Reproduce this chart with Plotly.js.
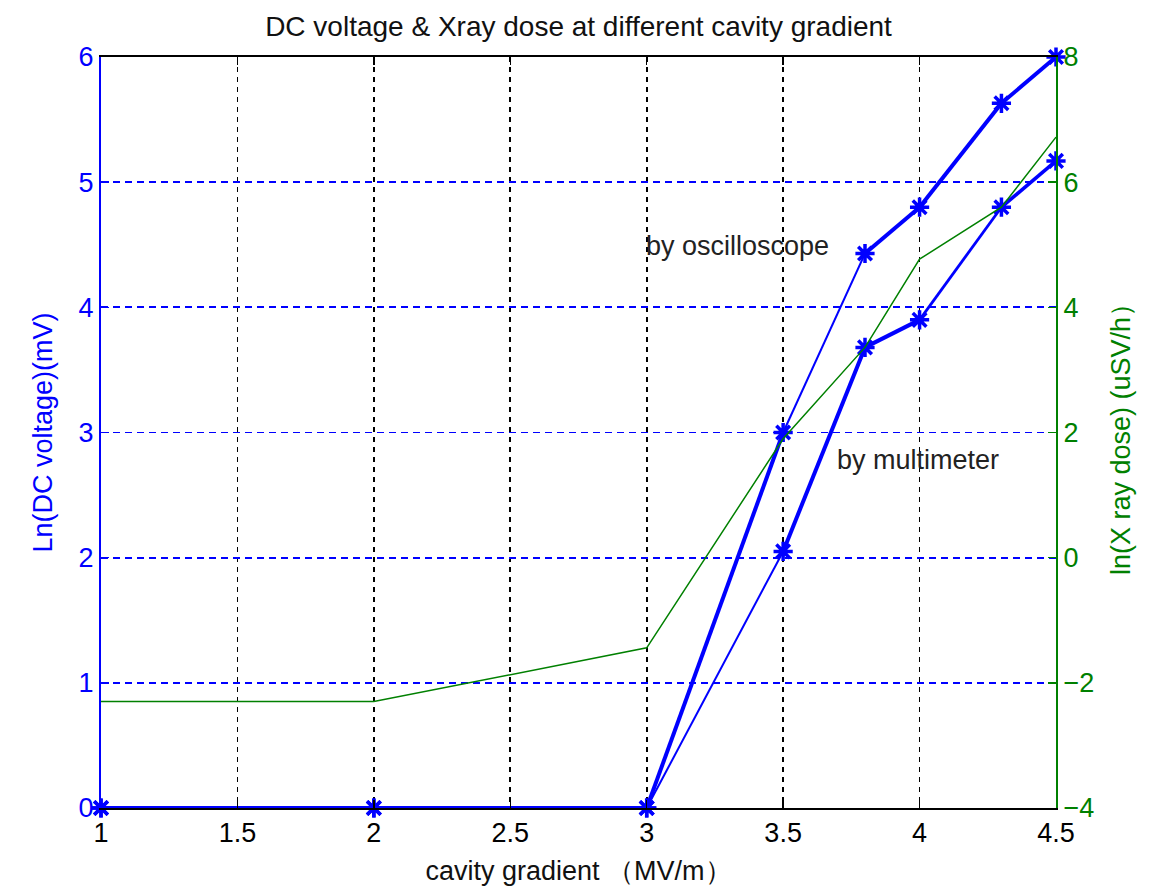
<!DOCTYPE html>
<html><head><meta charset="utf-8">
<script src="https://cdn.plot.ly/plotly-3.0.1.min.js"></script>
<style>html,body{margin:0;padding:0;background:#fff}#chart{width:1153px;height:894px}</style>
</head><body><div id="chart"></div>
<script>
// Data
const gradient = [1, 2, 3, 3.5, 3.8, 4, 4.3, 4.5];
const oscilloscope = [0, 0, 0, 3.0, 4.43, 4.8, 5.63, 6.0];
const multimeter = [0, 0, 0, 2.05, 3.68, 3.9, 4.8, 5.17];
const xrayDose = [-2.3, -2.3, -1.44, 1.9, 3.36, 4.77, 5.6, 6.72];
const xTicks = [1, 1.5, 2, 2.5, 3, 3.5, 4, 4.5];
const yTicks = [0, 1, 2, 3, 4, 5, 6];
const y2Ticks = [-4, -2, 0, 2, 4, 6, 8];
const labelOsc = 'by oscilloscope';
const labelMulti = 'by multimeter';

// Styles (segment line widths)
const oscWidths = [4, 4, 4, 2, 4, 4, 4];
const multiWidths = [4, 4, 2, 4, 4, 2.8, 3.5];

const BLUE = '#0000ff', GREEN = '#008000';
const FONT = 'Liberation Sans, Arial, sans-serif';

const traces = [];
function addSeries(xs, ys, widths) {
  for (let i = 0; i < xs.length - 1; i++) {
    traces.push({x: [xs[i], xs[i+1]], y: [ys[i], ys[i+1]], mode: 'lines', type: 'scatter',
      line: {color: BLUE, width: widths[i]}, showlegend: false, hoverinfo: 'skip', cliponaxis: false});
  }
  traces.push({x: xs, y: ys, mode: 'markers', type: 'scatter', showlegend: false, cliponaxis: false,
    marker: {symbol: 'asterisk-open', size: 16, color: BLUE, line: {color: BLUE, width: 3.5}}});
}
traces.push({x: gradient, y: xrayDose, yaxis: 'y2', mode: 'lines', type: 'scatter',
  line: {color: GREEN, width: 1.5}, showlegend: false});
addSeries(gradient, oscilloscope, oscWidths);
addSeries(gradient, multimeter, multiWidths);

const layout = {
  width: 1153, height: 894,
  margin: {l: 101, r: 97, t: 57, b: 86},
  paper_bgcolor: '#fff', plot_bgcolor: '#fff',
  font: {family: FONT, size: 27, color: '#000'},
  title: {text: 'DC voltage & Xray dose at different cavity gradient', font: {family: FONT, size: 28, color: '#111'},
    x: 0.5, xref: 'paper', y: 1 - 26/894, yref: 'container', yanchor: 'middle'},
  xaxis: {range: [1, 4.5], tickvals: xTicks, ticktext: xTicks.map(String), showline: true, linecolor: '#000', linewidth: 2,
    mirror: 'ticks', ticks: 'inside', ticklen: 8, tickcolor: '#000', tickwidth: 1.5,
    showgrid: true, gridcolor: '#000', griddash: '5px,5px', gridwidth: 1.8, zeroline: false,
    tickfont: {family: FONT, size: 27, color: '#000'},
    title: {text: 'cavity gradient （MV/m）', font: {family: FONT, size: 27, color: '#111'}, standoff: 14}},
  yaxis: {range: [0, 6], tickvals: yTicks, showline: true, linecolor: BLUE, linewidth: 2,
    ticks: 'inside', ticklen: 8, tickcolor: BLUE, tickwidth: 1.5,
    showgrid: true, gridcolor: BLUE, griddash: '7px,5px', gridwidth: 1.8, zeroline: false,
    tickfont: {family: FONT, size: 27, color: BLUE},
    title: {text: 'Ln(DC voltage)(mV)', font: {family: FONT, size: 27, color: BLUE}, standoff: 18}},
  yaxis2: {range: [-4, 8], tickvals: y2Ticks, overlaying: 'y', side: 'right', showline: true, linecolor: GREEN, linewidth: 2,
    ticks: 'inside', ticklen: 8, tickcolor: GREEN, tickwidth: 1.5, showgrid: false, zeroline: false,
    tickfont: {family: FONT, size: 27, color: GREEN},
    title: {text: 'ln(X ray dose) (uSV/h）', font: {family: FONT, size: 27, color: GREEN}, standoff: 18}},
  annotations: [
    {x: 2.99, y: 4.49, xref: 'x', yref: 'y', text: labelOsc, showarrow: false, xanchor: 'left', yanchor: 'middle',
      font: {family: FONT, size: 27, color: '#222'}},
    {x: 3.69, y: 2.78, xref: 'x', yref: 'y', text: labelMulti, showarrow: false, xanchor: 'left', yanchor: 'middle',
      font: {family: FONT, size: 27, color: '#222'}}
  ]
};
Plotly.newPlot('chart', traces, layout, {staticPlot: true, displayModeBar: false});
</script></body></html>
